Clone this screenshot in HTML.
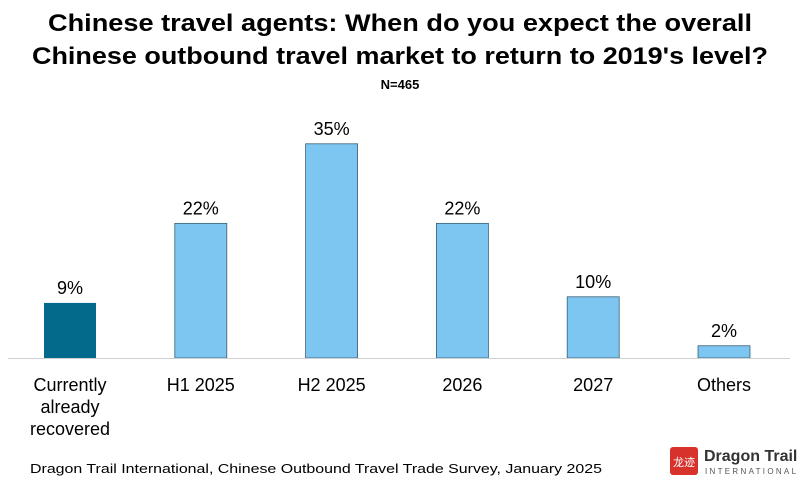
<!DOCTYPE html>
<html><head><meta charset="utf-8"><style>
body{margin:0;background:#fff;}
svg text{font-family:"Liberation Sans","DejaVu Sans",sans-serif;}
</style></head><body>
<svg width="800" height="486" xmlns="http://www.w3.org/2000/svg">
<text x="400" y="31" text-anchor="middle" font-size="24" font-weight="bold" fill="#000" textLength="704" lengthAdjust="spacingAndGlyphs">Chinese travel agents: When do you expect the overall</text>
<text x="400" y="64" text-anchor="middle" font-size="24" font-weight="bold" fill="#000" textLength="736" lengthAdjust="spacingAndGlyphs">Chinese outbound travel market to return to 2019's level?</text>
<text x="400" y="89" text-anchor="middle" font-size="13" font-weight="bold" fill="#000">N=465</text>
<g id="bars"></g>
<line x1="8" x2="790" y1="358.5" y2="358.5" stroke="#d0d0d0" stroke-width="1"/>
<text x="30" y="473" font-size="13" fill="#000" textLength="572" lengthAdjust="spacingAndGlyphs">Dragon Trail International, Chinese Outbound Travel Trade Survey, January 2025</text>
<g>
<rect x="670" y="447" width="28" height="28" rx="3" fill="#d8322c"/>
<text x="684" y="466" text-anchor="middle" font-size="11" fill="#fff" font-family="Noto Sans CJK SC, sans-serif">龙迹</text>
<text x="704" y="461" font-size="16" font-weight="bold" fill="#333">Dragon Trail</text>
<text x="705" y="474" font-size="8" fill="#555" letter-spacing="2.3">INTERNATIONAL</text>
</g>
</svg>
<script>
const categories=[["Currently","already","recovered"],["H1 2025"],["H2 2025"],["2026"],["2027"],["Others"]];
const values=[9,22,35,22,10,2];
const labels=["9%","22%","35%","22%","10%","2%"];
const g=document.getElementById('bars');
const NS="http://www.w3.org/2000/svg";
const base=358, scale=6.12, x0=70, step=130.8, bw=52;
function xc(i){return x0+i*step;}
function y(v){return base-v*scale;}
values.forEach((v,i)=>{
  const r=document.createElementNS(NS,'rect');
  r.setAttribute('x',xc(i)-bw/2);r.setAttribute('y',y(v));
  r.setAttribute('width',bw);r.setAttribute('height',base-y(v));
  r.setAttribute('fill',i===0?'#046a8b':'#7dc6f2');
  if(i>0){r.setAttribute('stroke','#3b5e74');r.setAttribute('stroke-width','0.8');}
  
  
  g.appendChild(r);
  const t=document.createElementNS(NS,'text');
  t.setAttribute('x',xc(i));t.setAttribute('y',y(v)-9);
  t.setAttribute('text-anchor','middle');t.setAttribute('font-size','18');
  t.textContent=labels[i];
  
  
  g.appendChild(t);
  categories[i].forEach((line,j)=>{
    const c=document.createElementNS(NS,'text');
    c.setAttribute('x',xc(i));c.setAttribute('y',391+j*22);
    c.setAttribute('text-anchor','middle');c.setAttribute('font-size','18');
    c.textContent=line;
    
    
    g.appendChild(c);
  });
});
</script>
</body></html>
